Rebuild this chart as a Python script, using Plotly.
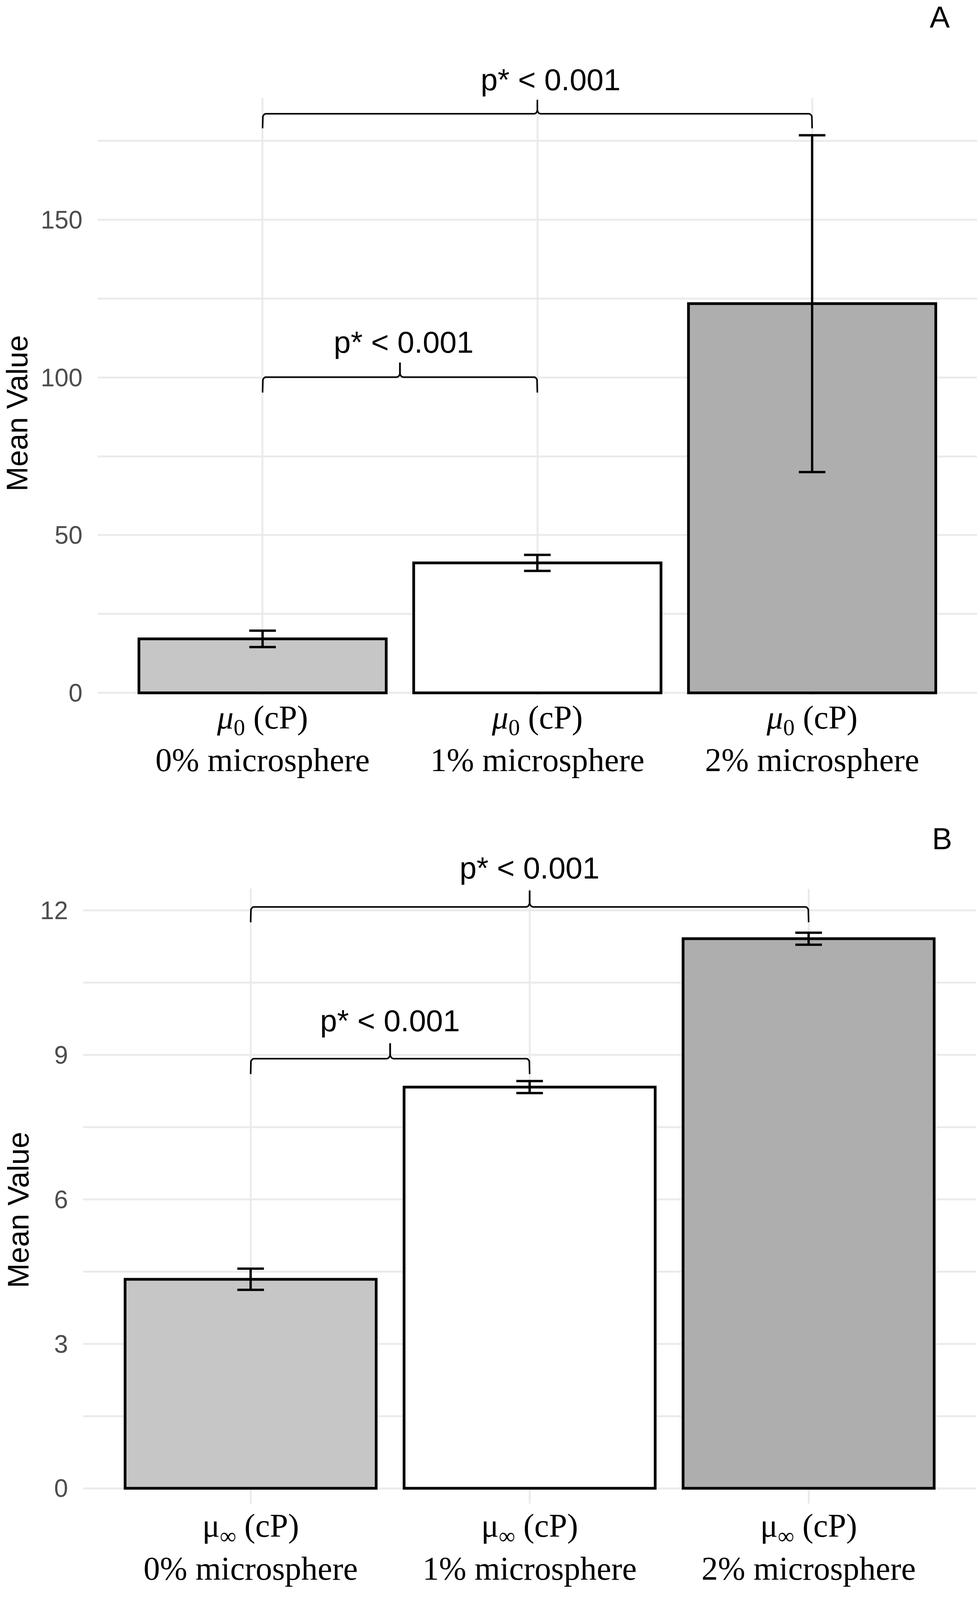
import numpy as np
import plotly.graph_objects as go

# categories shared by both panels
categories = ["0% microsphere", "1% microsphere", "2% microsphere"]
bar_colors = ["#C6C6C6", "#FFFFFF", "#AEAEAE"]

# panel A: zero-shear viscosity mu_0 (cP)
mu0_mean = [17.1, 41.2, 123.4]
mu0_err = [2.6, 2.55, 53.4]
mu0_yticks = [0, 50, 100, 150]
mu0_yminor = [25, 75, 125, 175]

# panel B: infinite-shear viscosity mu_inf (cP)
muinf_mean = [4.34, 8.33, 11.41]
muinf_err = [0.22, 0.125, 0.125]
muinf_yticks = [0, 3, 6, 9, 12]
muinf_yminor = [1.5, 4.5, 7.5, 10.5]

# significance brackets: (group from, group to, line level, end level, tip level)
p_label = "p* < 0.001"
mu0_brackets = [(0, 1, 100.1, 95.2, 104.7), (0, 2, 183.6, 179.0, 188.0)]
muinf_brackets = [(0, 1, 8.92, 8.60, 9.24), (0, 2, 12.07, 11.75, 12.41)]

mu0_ticktext = ["<i>μ</i><sub>0</sub> (cP)<br>" + c for c in categories]
muinf_ticktext = ["μ<sub>∞</sub> (cP)<br>" + c for c in categories]

x_pos = list(range(len(categories)))
GRID = "#EBEBEB"
SANS = "Liberation Sans, Arial"


def brace_half(xe, xc, yl, ye, yt, s, rx=0.012, frac=0.3):
    # one half of a curly bracket: end tick -> horizontal -> centre cusp
    ry_end = frac * (yl - ye)
    ry_tip = frac * (yt - yl)
    t = np.linspace(0, np.pi / 2, 8)
    xs = [xe]
    ys = [ye]
    xs += list(xe + s * rx * (1 - np.cos(t)))
    ys += list(yl - ry_end * (1 - np.sin(t)))
    xs += list(xc - s * rx * (1 - np.sin(t)))
    ys += list(yl + ry_tip * (1 - np.cos(t)))
    xs.append(xc)
    ys.append(yt)
    return xs, ys


fig = go.Figure()

panels = [
    (mu0_mean, mu0_err, mu0_brackets, "x", "y"),
    (muinf_mean, muinf_err, muinf_brackets, "x2", "y2"),
]

for mean, err, brackets, xa, ya in panels:
    fig.add_trace(go.Bar(
        x=x_pos, y=mean, width=0.9,
        marker=dict(color=bar_colors, line=dict(color="black", width=7)),
        error_y=dict(type="data", array=err, color="black", thickness=6, width=34),
        xaxis=xa, yaxis=ya, showlegend=False,
    ))
    for g0, g1, yl, ye, yt in brackets:
        xc = (x_pos[g0] + x_pos[g1]) / 2
        for xe, s in [(x_pos[g0], 1), (x_pos[g1], -1)]:
            bx, by = brace_half(xe, xc, yl, ye, yt, s)
            fig.add_trace(go.Scatter(
                x=bx, y=by, mode="lines", line=dict(color="black", width=4),
                xaxis=xa, yaxis=ya, showlegend=False, hoverinfo="skip",
            ))

# bracket labels
label_shift = {"y": (52, {2: 34, 1: 10}), "y2": (58, {2: 0, 1: 0})}
annotations = []
for mean, err, brackets, xa, ya in panels:
    ysh, xsh = label_shift[ya]
    for g0, g1, yl, ye, yt in brackets:
        annotations.append(dict(
            x=(x_pos[g0] + x_pos[g1]) / 2, y=yt, xref=xa, yref=ya,
            text=p_label, showarrow=False, xanchor="center", yanchor="middle",
            yshift=ysh, xshift=xsh[g1],
            font=dict(family=SANS, size=78, color="black"),
        ))

# panel letters and y titles
annotations += [
    dict(x=0.962, y=1.0, text="A", yanchor="top", borderpad=0,
         font=dict(family=SANS, size=77, color="black")),
    dict(x=0.964, y=0.4719, text="B", yanchor="middle",
         font=dict(family=SANS, size=77, color="black")),
    dict(x=0.0174, y=0.7397, text="Mean Value", textangle=-90, yanchor="middle",
         font=dict(family=SANS, size=76, color="black")),
    dict(x=0.0184, y=0.2382, text="Mean Value", textangle=-90, yanchor="middle",
         font=dict(family=SANS, size=76, color="black")),
]
for a in annotations[-4:]:
    a.update(xref="paper", yref="paper", showarrow=False, xanchor="center")

xaxis_style = dict(
    range=[-0.6, 2.6], tickmode="array", tickvals=x_pos,
    showgrid=True, gridcolor=GRID, gridwidth=5, zeroline=False, showline=False,
    ticks="", ticklabelstandoff=0,
    tickfont=dict(family="Liberation Serif, Times New Roman", size=84, color="black"),
)
yaxis_style = dict(
    showgrid=True, gridcolor=GRID, gridwidth=5, zeroline=False, showline=False,
    ticks="", ticklabelstandoff=38,
    tickfont=dict(family=SANS, size=64, color="#4D4D4D"),
)

fig.update_layout(
    margin=dict(l=0, r=0, t=0, b=0),
    plot_bgcolor="white", paper_bgcolor="white",
    bargap=0.1,
    xaxis=dict(domain=[0.1, 1.0], anchor="y", ticktext=mu0_ticktext, **xaxis_style),
    yaxis=dict(domain=[0.5623, 0.93827], anchor="x", range=[-0.75, 188.6],
               tickmode="array", tickvals=mu0_yticks,
               minor=dict(tickmode="array", tickvals=mu0_yminor, showgrid=True,
                          gridcolor=GRID, gridwidth=5),
               **yaxis_style),
    xaxis2=dict(domain=[0.0852, 0.999], anchor="y2", ticktext=muinf_ticktext, **xaxis_style),
    yaxis2=dict(domain=[0.05325, 0.44052], anchor="x2", range=[-0.32, 12.45],
                tickmode="array", tickvals=muinf_yticks,
                minor=dict(tickmode="array", tickvals=muinf_yminor, showgrid=True,
                           gridcolor=GRID, gridwidth=5),
                **yaxis_style),
    annotations=annotations,
)

# fill exactly the visible page (no body margin, no scrollbars)
fit_page = (
    "document.body.style.margin='0px';"
    "document.body.style.overflow='hidden';"
    "Plotly.relayout('{plot_id}', {width: window.innerWidth, height: window.innerHeight});"
)
fig.write_html("out.html", config={"displayModeBar": False},
               default_width="100vw", default_height="100vh", post_script=fit_page)
